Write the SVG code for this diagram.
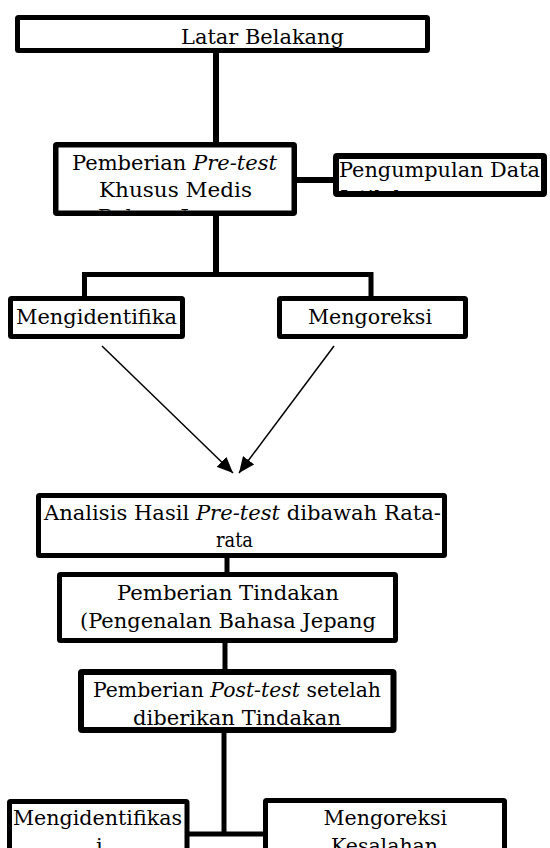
<svg xmlns="http://www.w3.org/2000/svg" width="550" height="848" viewBox="0 0 550 848">
<style>
.box{fill:#fff;stroke:#000;stroke-linejoin:round}
.t{font-family:"DejaVu Serif","Liberation Serif","Noto Serif",Times,serif;font-size:21px;fill:#000}
.i{font-style:italic}
.con{stroke:#000;fill:none}
.arr{stroke:#000;stroke-width:1.5;fill:none}
</style>
<defs>
<marker id="ah" markerWidth="16" markerHeight="14" refX="16" refY="7" orient="auto" markerUnits="userSpaceOnUse" viewBox="0 0 16 14">
<path d="M0,0 L16,7 L0,14 z" fill="#000"/>
</marker>
<clipPath id="c2"><rect x="58.5" y="147.5" width="233" height="63"/></clipPath>
<clipPath id="c3"><rect x="339" y="159" width="202" height="32"/></clipPath>
<clipPath id="c9"><rect x="12" y="804" width="173" height="44"/></clipPath>
<clipPath id="c10"><rect x="268" y="803" width="234" height="45"/></clipPath>
</defs>
<rect width="550" height="848" fill="#fff"/>
<g id="connectors">
<line class="con" x1="216" y1="53" x2="216" y2="142" stroke-width="6"/>
<line class="con" x1="297" y1="180" x2="333" y2="180" stroke-width="6"/>
<polyline class="con" points="84.5,297 84.5,274.5 371,274.5 371,297" stroke-width="5"/>
<line class="con" x1="216" y1="216" x2="216" y2="274.5" stroke-width="6"/>
<line class="arr" x1="102" y1="346" x2="233" y2="473" marker-end="url(#ah)"/>
<line class="arr" x1="334" y1="346" x2="239" y2="473" marker-end="url(#ah)"/>
<line class="con" x1="227" y1="558" x2="227" y2="572" stroke-width="5"/>
<line class="con" x1="225" y1="643" x2="225" y2="669" stroke-width="5"/>
<line class="con" x1="224" y1="733" x2="224" y2="834" stroke-width="5"/>
<line class="con" x1="189" y1="834" x2="263" y2="834" stroke-width="5"/>
</g>
<g id="latar">
<rect class="box" x="17.5" y="17.5" width="410" height="33" stroke-width="5" rx="1"/>
<text class="t" x="181" y="44" textLength="163" lengthAdjust="spacingAndGlyphs">Latar Belakang</text>
</g>
<g id="pretest">
<rect class="box" x="55.75" y="144.75" width="238.5" height="68.5" stroke-width="5.5" rx="1"/>
<text class="t" x="72" y="170" textLength="205" lengthAdjust="spacingAndGlyphs">Pemberian <tspan class="i">Pre-test</tspan></text>
<text class="t" x="99" y="197" textLength="153" lengthAdjust="spacingAndGlyphs">Khusus Medis</text>
<g clip-path="url(#c2)"><text class="t" x="98" y="224" textLength="155" lengthAdjust="spacingAndGlyphs">Bahasa Jepang</text></g>
</g>
<g id="pengumpulan">
<rect class="box" x="336" y="156" width="208" height="38" stroke-width="6" rx="1"/>
<text class="t" x="339" y="177" textLength="201" lengthAdjust="spacingAndGlyphs">Pengumpulan Data</text>
<g clip-path="url(#c3)"><text class="t" x="340" y="205">Istilah</text></g>
</g>
<g id="mengidentifika">
<rect class="box" x="10.5" y="298.5" width="172" height="38" stroke-width="5" rx="1"/>
<text class="t" x="16" y="324" textLength="161" lengthAdjust="spacingAndGlyphs">Mengidentifika</text>
</g>
<g id="mengoreksi">
<rect class="box" x="279.5" y="298.5" width="186" height="38" stroke-width="5" rx="1"/>
<text class="t" x="308" y="324" textLength="124" lengthAdjust="spacingAndGlyphs">Mengoreksi</text>
</g>
<g id="analisis">
<rect class="box" x="38.5" y="495.5" width="406" height="60" stroke-width="5" rx="1"/>
<text class="t" x="44" y="520" textLength="397" lengthAdjust="spacingAndGlyphs">Analisis Hasil <tspan class="i">Pre-test</tspan> dibawah Rata-</text>
<text class="t" x="216" y="547" textLength="37" lengthAdjust="spacingAndGlyphs">rata</text>
</g>
<g id="tindakan">
<rect class="box" x="59.5" y="574.5" width="336" height="66" stroke-width="5" rx="1"/>
<text class="t" x="117" y="600" textLength="222" lengthAdjust="spacingAndGlyphs">Pemberian Tindakan</text>
<text class="t" x="80" y="628" textLength="296" lengthAdjust="spacingAndGlyphs">(Pengenalan Bahasa Jepang</text>
</g>
<g id="posttest">
<rect class="box" x="81" y="672" width="312.5" height="58" stroke-width="6" rx="1"/>
<text class="t" x="93" y="697" textLength="288" lengthAdjust="spacingAndGlyphs">Pemberian <tspan class="i">Post-test</tspan> setelah</text>
<text class="t" x="133" y="725" textLength="208" lengthAdjust="spacingAndGlyphs">diberikan Tindakan</text>
</g>
<g id="mengidentifikasi">
<rect class="box" x="9.5" y="801.5" width="177.5" height="80" stroke-width="5" rx="1"/>
<text class="t" x="13" y="825" textLength="169" lengthAdjust="spacingAndGlyphs">Mengidentifikas</text>
<g clip-path="url(#c9)"><text class="t" x="96" y="853">i</text></g>
</g>
<g id="mengoreksi2">
<rect class="box" x="265.5" y="800.5" width="239" height="80" stroke-width="5" rx="1"/>
<text class="t" x="323.5" y="825" textLength="123.5" lengthAdjust="spacingAndGlyphs">Mengoreksi</text>
<g clip-path="url(#c10)"><text class="t" x="331" y="853" textLength="107" lengthAdjust="spacingAndGlyphs">Kesalahan</text></g>
</g>
</svg>
